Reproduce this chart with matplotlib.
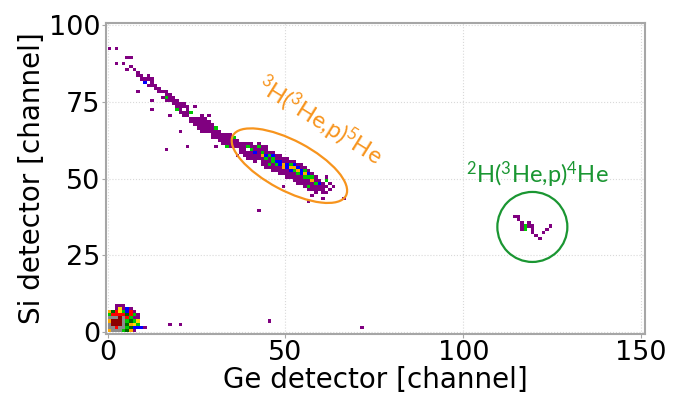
import numpy as np
import matplotlib.pyplot as plt
from matplotlib.colors import ListedColormap, BoundaryNorm
from matplotlib.patches import Ellipse, Circle
from matplotlib.transforms import ScaledTranslation

# channel cells (Ge, Si) grouped by count level
# level 1 (purple)
cells_1 = [
    (0, 92), (2, 92), (5, 89), (6, 89), (2, 87), (4, 87), (6, 86), (5, 85), (7, 85),
    (8, 84), (8, 83), (9, 83), (9, 82), (10, 82), (11, 83), (11, 82), (12, 82),
    (12, 81), (11, 80), (12, 80), (13, 80), (8, 78), (13, 79), (14, 79), (14, 78),
    (15, 78), (16, 78), (16, 77), (17, 77), (15, 76), (17, 76), (18, 76), (12, 75),
    (16, 75), (17, 75), (18, 75), (19, 75), (18, 74), (19, 74), (20, 74), (21, 74),
    (19, 73), (20, 73), (21, 73), (22, 73), (24, 73), (12, 72), (20, 72), (22, 72),
    (20, 71), (21, 71), (22, 71), (17, 70), (21, 70), (22, 70), (26, 70), (28, 70),
    (23, 69), (24, 69), (25, 69), (26, 69), (27, 69),
    (23, 68), (24, 68), (25, 68), (26, 68), (27, 68), (28, 68), (24, 67), (25, 67),
    (26, 67), (27, 67), (28, 67), (29, 67), (25, 66), (26, 66), (27, 66), (28, 66),
    (29, 66), (26, 65), (27, 65), (28, 65), (29, 65), (20, 65), (29, 64), (30, 65),
    (31, 65), (30, 64), (31, 64), (32, 64), (33, 64), (34, 64), (30, 63), (31, 63),
    (32, 63), (33, 63), (34, 63), (29, 63), (31, 62), (32, 62), (33, 62), (34, 62),
    (35, 62), (36, 62), (32, 61), (33, 61), (34, 61), (35, 61), (36, 61), (37, 61),
    (38, 61), (34, 60), (35, 60), (36, 60), (37, 60), (38, 60), (30, 60), (22, 60),
    (16, 59), (36, 57), (37, 58), (37, 59), (38, 57), (38, 58), (38, 59), (39, 56),
    (39, 57), (39, 58), (39, 61), (40, 56), (40, 57), (40, 58), (40, 60), (40, 61),
    (41, 55), (41, 56), (41, 57), (41, 59), (41, 60), (42, 56), (42, 57), (42, 58),
    (42, 59), (42, 61), (43, 54), (43, 55), (43, 56), (43, 59), (43, 60), (44, 53),
    (44, 54), (44, 55), (44, 58), (44, 59), (44, 60), (45, 53), (45, 55), (45, 56),
    (45, 58), (46, 52), (46, 53), (46, 54), (46, 57), (46, 58), (47, 52), (47, 53),
    (47, 56), (47, 57), (48, 51), (48, 52), (48, 53), (48, 56), (48, 57), (49, 51),
    (49, 52), (49, 55), (49, 56), (49, 47), (50, 50), (50, 51), (50, 52), (50, 55),
    (50, 56), (51, 50), (51, 51), (51, 52), (51, 55), (52, 49), (52, 50), (52, 51),
    (52, 55), (53, 48), (53, 49), (53, 50), (53, 54), (54, 48), (54, 49), (54, 50),
    (54, 53), (54, 54), (55, 47), (55, 48), (55, 49), (55, 53), (56, 46), (56, 48),
    (56, 49), (56, 52), (56, 42), (57, 46), (57, 47), (57, 48), (57, 51), (57, 44),
    (58, 45), (58, 46), (58, 47), (58, 49), (58, 50), (59, 46), (59, 47), (59, 49),
    (60, 45), (60, 46), (60, 47), (60, 48), (60, 43), (61, 45), (61, 47), (61, 50),
    (62, 46), (62, 48), (63, 47), (66, 43), (42, 39), (17, 2), (20, 2), (45, 3),
    (71, 1),
    (114, 37), (115, 37), (115, 36), (116, 35), (116, 34), (116, 33), (118, 35),
    (118, 34), (119, 34), (119, 33), (119, 32), (120, 31), (121, 30), (122, 32),
    (123, 33), (124, 34),
]
# level 2 (green)
cells_2 = [
    (16, 76), (19, 72), (23, 71), (30, 66), (35, 63), (33, 60), (39, 60), (40, 59),
    (42, 60), (43, 58), (44, 56), (45, 54), (45, 57), (46, 55), (46, 56), (47, 54),
    (49, 53), (51, 54), (52, 52), (53, 51), (55, 50), (55, 52), (56, 47), (56, 50),
    (57, 50), (58, 48), (61, 49), (117, 34), (117, 33),
]
# level 3 (blue)
cells_3 = [
    (10, 81), (41, 58), (44, 57), (47, 55), (48, 54), (48, 55), (50, 53), (50, 54),
    (52, 54), (53, 53), (54, 51), (54, 52), (56, 51), (59, 48), (46, 57), (51, 52),
]
# level 4 (orange)
cells_4 = [
    (43, 57), (49, 54), (51, 53), (52, 53), (53, 52), (55, 51), (57, 49), (49, 53),
]

# low channel corner (x = 0..10, y = 8 down to 0), levels 0..9
corner = [
    [0, 0, 1, 1, 1, 0, 0, 0, 0, 0, 0],
    [0, 0, 1, 5, 1, 3, 1, 0, 0, 0, 0],
    [4, 9, 6, 5, 2, 3, 6, 1, 0, 0, 0],
    [2, 6, 6, 6, 6, 9, 6, 2, 1, 0, 0],
    [8, 8, 8, 7, 8, 6, 2, 1, 1, 0, 0],
    [4, 7, 7, 7, 8, 2, 9, 2, 5, 0, 0],
    [8, 7, 7, 7, 8, 9, 4, 5, 2, 0, 0],
    [8, 8, 6, 8, 8, 2, 9, 3, 3, 3, 1],
    [4, 8, 8, 8, 2, 9, 4, 1, 0, 0, 0],
]

level_colors = ['#800080', '#00c800', '#0000ff', '#ffaa00', '#ffdd00',
                '#ff0000', '#8b0000', '#8c8c8c', '#006400']

x_ticks = [0, 50, 100, 150]
y_ticks = [0, 25, 50, 75, 100]

# build the histogram grid
H = np.zeros((101, 151))
for level, cells in enumerate([cells_1, cells_2, cells_3, cells_4], start=1):
    for cx, cy in cells:
        H[cy, cx] = level
corner = np.array(corner)[::-1]
for cy in range(corner.shape[0]):
    for cx in range(corner.shape[1]):
        if corner[cy, cx] > 0:
            H[cy, cx] = corner[cy, cx]
H = np.ma.masked_equal(H, 0)

cmap = ListedColormap(level_colors)
norm = BoundaryNorm(np.arange(0.5, len(level_colors) + 1), cmap.N)

fig = plt.figure(figsize=(6.83, 3.95), dpi=100)
ax = fig.add_axes([0.155, 0.154, 0.789, 0.788])

ax.pcolormesh(np.arange(152), np.arange(102), H, cmap=cmap, norm=norm,
              edgecolors='none')

ax.set_xlim(-0.5, 151)
ax.set_ylim(-0.8, 100.8)
ax.set_xticks(x_ticks)
ax.set_yticks(y_ticks)
ax.grid(True, color='#d9d9d9', linestyle=':', linewidth=0.8)
ax.set_axisbelow(True)
ax.tick_params(labelsize=19.5, length=3, color='#a6a6a6', pad=1)
for sp in ax.spines.values():
    sp.set_color('#a6a6a6')
    sp.set_linewidth(1.5)

ax.set_xlabel('Ge detector [channel]', fontsize=20, labelpad=0)
ax.set_ylabel('Si detector [channel]', fontsize=20, labelpad=2)

# reaction markers
orange = '#f7941d'
green = '#1a9632'
ell = Ellipse((0, 0), 1.28, 0.5, angle=-28, fill=False, color=orange, lw=1.6,
              transform=fig.dpi_scale_trans + ScaledTranslation(51.1, 54.2, ax.transData))
ax.add_patch(ell)
circ = Circle((0, 0), 0.35, fill=False, color=green, lw=1.6,
              transform=fig.dpi_scale_trans + ScaledTranslation(119.4, 34.2, ax.transData))
ax.add_patch(circ)

ax.text(59.7, 68.9, r'$\mathregular{^{3}}$H($\mathregular{^{3}}$He,p)$\mathregular{^{5}}$He',
        rotation=-32, ha='center', va='center', rotation_mode='anchor',
        color=orange, fontsize=17, family='Lato')
ax.text(120.9, 51.4, r'$\mathregular{^{2}}$H($\mathregular{^{3}}$He,p)$\mathregular{^{4}}$He',
        ha='center', va='center', color=green, fontsize=17, family='Lato')

fig.savefig('out.png', dpi=100)
